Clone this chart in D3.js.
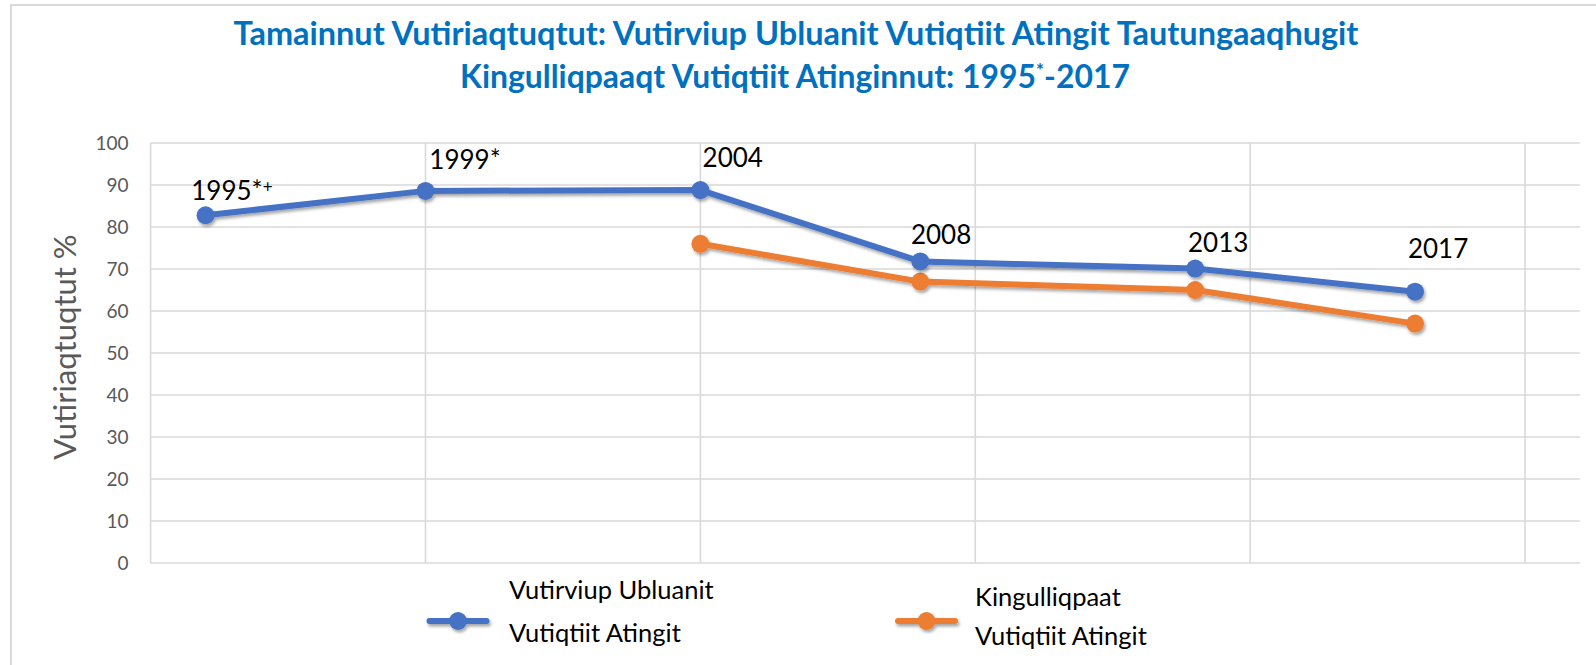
<!DOCTYPE html>
<html>
<head>
<meta charset="utf-8">
<script src="https://cdn.jsdelivr.net/npm/d3@7"></script>
<style>
  html, body { margin: 0; padding: 0; background: #ffffff; }
  svg { display: block; }
</style>
</head>
<body>
<svg id="chart"></svg>
<script>
// Data
const years = [1995, 1999, 2004, 2008, 2013, 2017];
const dayCareValues = [82.8, 88.6, 88.8, 71.8, 70.1, 64.6];
const kgYears = [2004, 2008, 2013, 2017];
const kgValues = [76.0, 67.0, 65.0, 57.0];
const pointLabels = ['1995*', '1999*', '2004', '2008', '2013', '2017'];
// label anchors in data units (year, percent)
const labelYears = [1994.74, 1999.07, 2004.04, 2007.83, 2012.87, 2016.87];
const labelLevels = [88.1, 95.4, 95.9, 77.4, 75.5, 74.3];
const yTicks = [0, 10, 20, 30, 40, 50, 60, 70, 80, 90, 100];
const xGridYears = [1994, 1999, 2004, 2009, 2014, 2019];
const seriesNames = [
    ['Vutirviup Ubluanit', 'Vutiqtiit Atingit'],
    ['Kingulliqpaat', 'Vutiqtiit Atingit']
];

const width = 1596, height = 665;
const BLUE = '#4472C4', ORANGE = '#ED7D31';
const FONT = 'Lato, "Open Sans", sans-serif';

const svg = d3.select('#chart')
    .attr('width', width)
    .attr('height', height);

// drop shadow like Excel's series shadow
const defs = svg.append('defs');
const shadow = defs.append('filter')
    .attr('id', 'shadow')
    .attr('x', '-20%').attr('y', '-20%')
    .attr('width', '140%').attr('height', '140%');
shadow.append('feDropShadow')
    .attr('dx', 1.5)
    .attr('dy', 2.5)
    .attr('stdDeviation', 1.8)
    .attr('flood-color', '#000')
    .attr('flood-opacity', 0.35);

// chart border (runs off the right / bottom edge)
svg.append('path')
    .attr('d', `M11,${height + 2} L11,5 L${width + 2},5`)
    .attr('fill', 'none')
    .attr('stroke', '#d9d9d9')
    .attr('stroke-width', 2);

const x = d3.scaleLinear().domain([1994, 2020]).range([150.6, 1580]);
const y = d3.scaleLinear().domain([0, 100]).range([563, 143]);

// gridlines
const grid = svg.append('g');
grid.selectAll('line.h')
    .data(yTicks)
    .join('line')
    .attr('class', 'h')
    .attr('x1', x(1994)).attr('x2', x(2020))
    .attr('y1', d => y(d)).attr('y2', d => y(d))
    .attr('stroke', '#d9d9d9')
    .attr('stroke-width', 1.6);
grid.selectAll('line.v')
    .data(xGridYears)
    .join('line')
    .attr('class', 'v')
    .attr('x1', d => x(d)).attr('x2', d => x(d))
    .attr('y1', y(0)).attr('y2', y(100))
    .attr('stroke', '#d9d9d9')
    .attr('stroke-width', 1.6);

// y axis tick labels
const yAxis = svg.append('g')
    .attr('transform', `translate(${x(1994)},0)`)
    .call(d3.axisLeft(y).tickValues(yTicks).tickSize(0).tickPadding(22));
yAxis.select('.domain').remove();
yAxis.selectAll('text')
    .attr('fill', '#595959')
    .attr('font-family', FONT)
    .attr('font-size', '19px');

// y axis title
svg.append('text')
    .attr('transform', `translate(76, ${y(50) - 6}) rotate(-90)`)
    .attr('text-anchor', 'middle')
    .attr('fill', '#595959')
    .attr('font-family', FONT)
    .attr('font-size', '31px')
    .text('Vutiriaqtuqtut %');

// title, two lines
const title = svg.append('g')
    .attr('fill', '#0070C0')
    .attr('font-family', FONT)
    .attr('font-weight', 'bold')
    .attr('text-anchor', 'middle');
const t1 = title.append('text')
    .attr('x', 796).attr('y', 45)
    .attr('font-size', '27px')
    .text('Tamainnut Vutiriaqtuqtut: Vutirviup Ubluanit Vutiqtiit Atingit Tautungaaqhugit');
const t2 = title.append('text')
    .attr('x', 795).attr('y', 88)
    .attr('font-size', '27px');
t2.append('tspan').text('Kingulliqpaaqt Vutiqtiit Atinginnut: 1995');
t2.append('tspan').attr('font-size', '16px').attr('dy', -11).text('*');
t2.append('tspan').attr('dy', 11).text('-2017');

// fit the title lines to the widths seen in the reference
[[t1, 1125], [t2, 670]].forEach(([t, target]) => {
    const len = t.node().getComputedTextLength();
    const fs = 27 * target / len;
    t.attr('font-size', fs + 'px');
    t.selectAll('tspan').each(function () {
        const s = d3.select(this);
        if (s.text() === '*') s.attr('font-size', (fs * 0.6) + 'px');
    });
});

// series
const line = d3.line().x(d => x(d[0])).y(d => y(d[1]));
const series = [
    {pts: d3.zip(years, dayCareValues), color: BLUE},
    {pts: d3.zip(kgYears, kgValues), color: ORANGE}
];

// draw orange first so blue sits on top like the reference
[series[1], series[0]].forEach(s => {
    const g = svg.append('g').attr('filter', 'url(#shadow)');
    g.append('path')
        .datum(s.pts)
        .attr('d', line)
        .attr('fill', 'none')
        .attr('stroke', s.color)
        .attr('stroke-width', 6)
        .attr('stroke-linejoin', 'round');
    g.selectAll('circle')
        .data(s.pts)
        .join('circle')
        .attr('cx', d => x(d[0]))
        .attr('cy', d => y(d[1]))
        .attr('r', 9)
        .attr('fill', s.color);
});

// point labels
const labels = svg.append('g')
    .attr('font-family', FONT)
    .attr('font-size', '26px')
    .attr('fill', '#000');
pointLabels.forEach((lab, i) => {
    const t = labels.append('text')
        .attr('x', x(labelYears[i]))
        .attr('y', y(labelLevels[i]))
        .attr('dominant-baseline', 'middle')
        .text(lab);
    if (i === 0) {
        t.append('tspan')
            .attr('font-size', '17px')
            .attr('dy', -4)
            .text('+');
    }
});

// legend
const legendPos = [[429.5, 509], [898, 975]];
const legendRows = [[593, 636], [600, 639]];
const legend = svg.append('g')
    .attr('font-family', FONT)
    .attr('font-size', '25.5px')
    .attr('fill', '#000');
series.forEach((s, i) => {
    const [lx, tx] = legendPos[i];
    const g = legend.append('g').attr('filter', 'url(#shadow)');
    g.append('line')
        .attr('x1', lx).attr('x2', lx + 57)
        .attr('y1', 621).attr('y2', 621)
        .attr('stroke', s.color)
        .attr('stroke-width', 6)
        .attr('stroke-linecap', 'round');
    g.append('circle')
        .attr('cx', lx + 28.5).attr('cy', 621)
        .attr('r', 9)
        .attr('fill', s.color);
    seriesNames[i].forEach((txt, j) => {
        legend.append('text')
            .attr('x', tx)
            .attr('y', legendRows[i][j])
            .attr('dominant-baseline', 'middle')
            .text(txt);
    });
});
</script>
</body>
</html>
